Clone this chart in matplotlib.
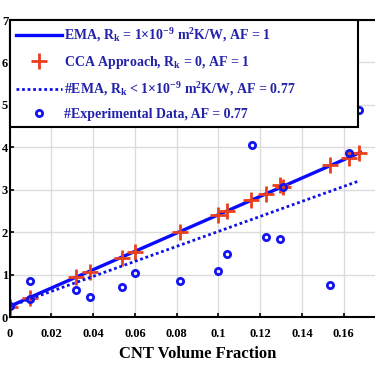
import matplotlib
matplotlib.use('Agg')
import matplotlib.pyplot as plt

plt.rcParams['font.family'] = ['Liberation Serif', 'DejaVu Serif']
plt.rcParams['font.weight'] = 'bold'
plt.rcParams['mathtext.fontset'] = 'custom'
plt.rcParams['mathtext.rm'] = 'Liberation Serif:bold'
plt.rcParams['mathtext.default'] = 'rm'

# EMA model lines (endpoints)
ema_x = [0.0, 0.168]
ema_y = [0.25, 3.88]
ema77_x = [0.0, 0.1675]
ema77_y = [0.25, 3.21]

# CCA approach
cca_x = [0.0, 0.0096, 0.032, 0.0386, 0.0537, 0.0601, 0.0814, 0.0997, 0.104,
         0.1158, 0.1229, 0.1297, 0.1308, 0.1535, 0.1624, 0.1675]
cca_y = [0.24, 0.44, 0.95, 1.07, 1.38, 1.54, 2.00, 2.41, 2.50,
         2.76, 2.90, 3.11, 3.06, 3.58, 3.75, 3.87]

# experimental data
exp_x = [0.0, 0.0096, 0.0096, 0.032, 0.0386, 0.0537, 0.0603, 0.0814, 0.0997,
         0.104, 0.116, 0.1229, 0.1297, 0.1308, 0.1536, 0.1624, 0.1672]
exp_y = [0.25, 0.43, 0.85, 0.64, 0.48, 0.71, 1.04, 0.86, 1.08,
         1.48, 4.06, 1.89, 1.83, 3.06, 0.75, 3.86, 4.87]

fig = plt.figure(figsize=(3.75, 3.66), dpi=100)
ax = fig.add_axes([9.5 / 375, 49 / 366, 376 / 375, 297 / 366])

ax.plot(ema_x, ema_y, color='#0a0aff', lw=2.4,
        label=r'EMA, R$_{k}$ = 1$\times$10$^{-9}$ m$^{2}$K/W, AF = 1')
ax.plot(cca_x, cca_y, linestyle='none', marker='+', ms=11, mew=2,
        color='#e8401f', label=r'CCA Approach, R$_{k}$ = 0, AF = 1')
ax.plot(ema77_x, ema77_y, color='#1010e8', lw=2, linestyle=(0, (1, 1)),
        label=r'#EMA, R$_{k}$ < 1$\times$10$^{-9}$ m$^{2}$K/W, AF = 0.77')
ax.plot(exp_x, exp_y, linestyle='none', marker='o', ms=4.5, mew=2,
        mfc='none', color='#1414f0', label='#Experimental Data, AF = 0.77')

ax.set_xlim(0, 0.18)
ax.set_ylim(0, 7)
ax.set_xticks([0, 0.02, 0.04, 0.06, 0.08, 0.1, 0.12, 0.14, 0.16, 0.18])
ax.set_xticklabels(['0', '0.02', '0.04', '0.06', '0.08', '0.1', '0.12', '0.14', '0.16', ''])
ax.set_yticks(range(8))
ax.grid(True, color='#dcdcdc', lw=1)
ax.set_axisbelow(True)
ax.tick_params(direction='in', labelsize=9, length=3, width=1.2)
ax.tick_params(axis='x', pad=8)
ax.tick_params(axis='y', pad=1)
for s in ax.spines.values():
    s.set_linewidth(1.5)

ax.set_xlabel('CNT Volume Fraction', fontsize=12, fontweight='bold', labelpad=4)

leg = ax.legend(loc='upper left', bbox_to_anchor=(0, 1, 0.927, 0), mode='expand',
                fontsize=10, numpoints=1, handlelength=3.3, handletextpad=0.15,
                labelspacing=0.7, borderpad=0.45, borderaxespad=0,
                fancybox=False, framealpha=1, edgecolor='black',
                labelcolor='#2222aa')
leg.get_frame().set_linewidth(1.5)
leg.set_zorder(5)

fig.savefig('out.png', dpi=100)
